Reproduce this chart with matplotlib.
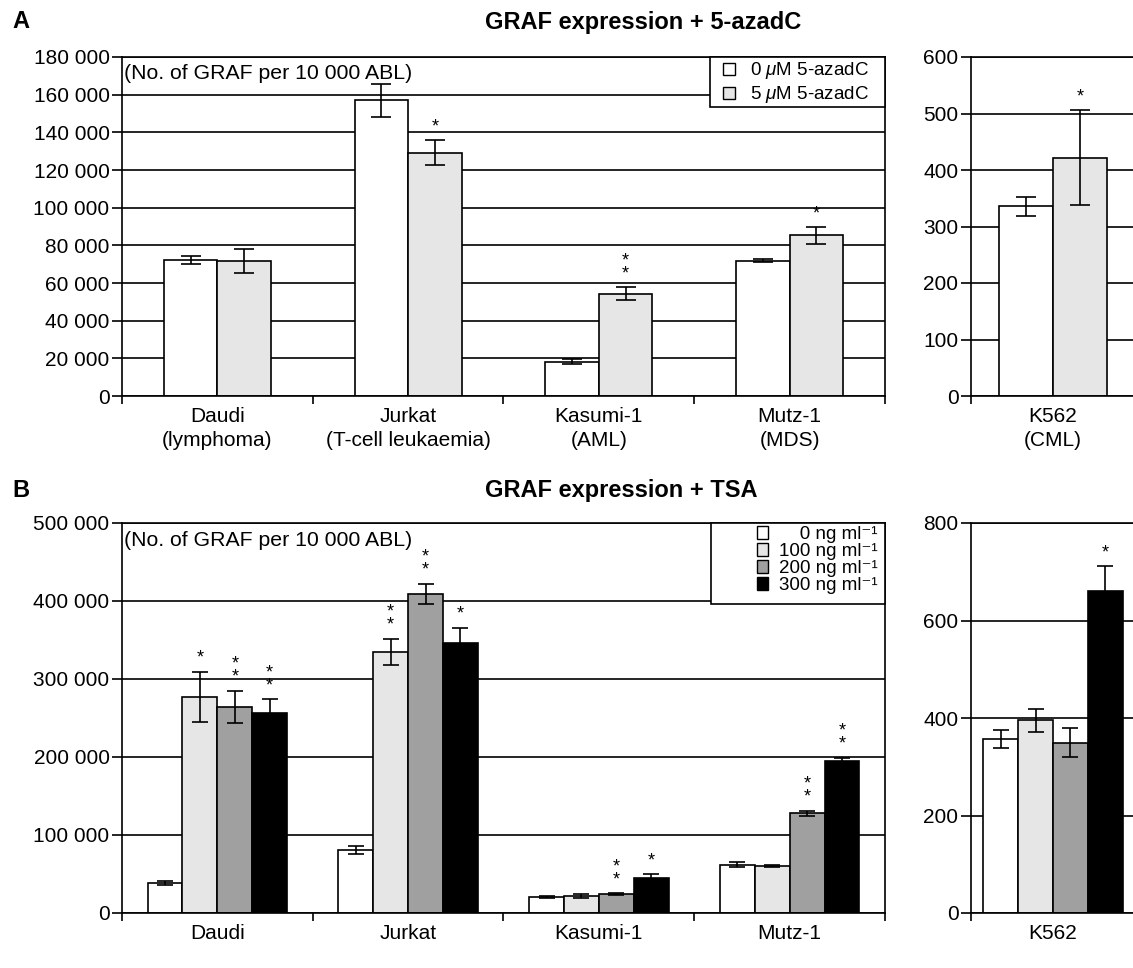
import numpy as np
import matplotlib
matplotlib.use("Agg")
import matplotlib.pyplot as plt
from matplotlib.patches import Patch, Rectangle

plt.rcParams['font.family'] = ['Liberation Sans', 'DejaVu Sans']
plt.rcParams['mathtext.fontset'] = 'custom'
plt.rcParams['mathtext.rm'] = 'Liberation Sans'
plt.rcParams['mathtext.it'] = 'Liberation Sans:italic'
plt.rcParams['font.size'] = 15

# ---------------- data ----------------
# Panel A (5-azadC)
a_categories = ["Daudi\n(lymphoma)", "Jurkat\n(T-cell leukaemia)", "Kasumi-1\n(AML)", "Mutz-1\n(MDS)"]
a_series = ["0 $\\mu$M 5-azadC", "5 $\\mu$M 5-azadC"]
a_0 = [72400, 157000, 18200, 71700]
a_0_err = [2100, 8700, 1300, 800]
a_5 = [71800, 129200, 54300, 85300]
a_5_err = [6300, 6700, 3400, 4500]
a_0_stars = [0, 0, 0, 0]
a_5_stars = [0, 1, 2, 1]

a_k562_cat = ["K562\n(CML)"]
a_k562 = [336, 422]
a_k562_err = [17, 84]
a_k562_stars = [0, 1]

# Panel B (TSA)
b_categories = ["Daudi", "Jurkat", "Kasumi-1", "Mutz-1"]
b_series = ["\u2007\u20070 ng ml\u207b\u00b9", "100 ng ml\u207b\u00b9",
            "200 ng ml\u207b\u00b9", "300 ng ml\u207b\u00b9"]
b_vals = [
    [38500, 81000, 20500, 62000],
    [277000, 335000, 22000, 60500],
    [264000, 409000, 24500, 128000],
    [257000, 346000, 45000, 195500],
]
b_errs = [
    [2000, 5000, 700, 3000],
    [32500, 16500, 3000, 1500],
    [21000, 13000, 1000, 3000],
    [17000, 20000, 5000, 3500],
]
b_stars = [
    [0, 0, 0, 0],
    [1, 2, 0, 0],
    [2, 2, 2, 2],
    [2, 1, 1, 2],
]

b_k562_cat = ["K562"]
b_k562 = [357, 395, 349, 660]
b_k562_err = [18, 24, 30, 52]
b_k562_stars = [0, 0, 0, 1]

a_colors = ["white", "#e6e6e6"]
b_colors = ["white", "#e6e6e6", "#a0a0a0", "black"]

W, H = 1133, 968
fig = plt.figure(figsize=(W / 100, H / 100), dpi=100)


def px_axes(x0, y0, x1, y1):
    return fig.add_axes([x0 / W, 1 - y1 / H, (x1 - x0) / W, (y1 - y0) / H])


def fmt_thousands(v):
    return "{:,}".format(int(v)).replace(",", " ")


def style_axes(ax, ymax, ystep, ncat, right_spine=True, thousands=True):
    ax.set_ylim(0, ymax)
    ticks = np.arange(0, ymax + 1, ystep)
    ax.set_yticks(ticks)
    if thousands:
        ax.set_yticklabels([fmt_thousands(t) for t in ticks])
    ax.yaxis.grid(True, color="black", linewidth=1.2)
    ax.set_axisbelow(True)
    for s in ["left", "bottom", "right", "top"]:
        ax.spines[s].set_linewidth(1.2)
        ax.spines[s].set_color("black")
    ax.spines["right"].set_visible(right_spine)
    ax.tick_params(axis="y", direction="out", length=7, width=1.2, labelsize=15, pad=2)
    ax.set_xlim(-0.5, ncat - 0.5)
    ax.set_xticks(np.arange(ncat))
    ax.tick_params(axis="x", which="major", length=0, labelsize=15, pad=8)
    ax.set_xticks(np.arange(ncat + 1) - 0.5, minor=True)
    ax.tick_params(axis="x", which="minor", direction="out", length=6, width=1.2)


def draw_group(ax, values_by_series, errs_by_series, stars_by_series, colors, width, capsize):
    nser = len(values_by_series)
    ncat = len(values_by_series[0])
    x = np.arange(ncat)
    for i in range(nser):
        xi = x + (i - (nser - 1) / 2) * width
        ax.bar(xi, values_by_series[i], width=width, color=colors[i], edgecolor="black",
               linewidth=1.2, zorder=2)
        ax.errorbar(xi, values_by_series[i], yerr=errs_by_series[i], fmt="none",
                    ecolor="black", elinewidth=1.2, capsize=capsize, capthick=1.2, zorder=3)
        for j in range(ncat):
            n = stars_by_series[i][j]
            if n:
                top = values_by_series[i][j] + errs_by_series[i][j]
                ax.annotate("\n".join(["*"] * n), (xi[j], top), xytext=(0, 3.5),
                            textcoords="offset points", ha="center", va="bottom",
                            fontsize=13, linespacing=0.7, zorder=4)


def boxed_legend(ax, colors, labels, box, anchor, fontsize, spacing, textpad):
    # box: (x0, y0, x1, y1) in axes fraction
    rect = Rectangle((box[0], box[1]), box[2] - box[0], box[3] - box[1],
                     transform=ax.transAxes, facecolor="white", edgecolor="black",
                     linewidth=1.2, zorder=5, clip_on=False)
    ax.add_patch(rect)
    leg = ax.legend([Patch(facecolor=c, edgecolor="black", linewidth=1.0) for c in colors],
                    labels, loc="upper left", bbox_to_anchor=anchor, borderaxespad=0,
                    borderpad=0, frameon=False, fontsize=fontsize,
                    handlelength=0.62, handleheight=0.62, handletextpad=textpad,
                    labelspacing=spacing)
    leg.set_zorder(6)
    return leg


# ---------------- Panel A ----------------
axA = px_axes(122, 57, 885, 396)
style_axes(axA, 180000, 20000, 4)
draw_group(axA, [a_0, a_5], [a_0_err, a_5_err], [a_0_stars, a_5_stars], a_colors, 0.28, 7)
axA.set_xticklabels(a_categories, linespacing=1.35)
axA.text(0.002, 0.95, "(No. of GRAF per 10 000 ABL)", transform=axA.transAxes,
         ha="left", va="center", fontsize=15.3)
boxed_legend(axA, a_colors, a_series, (0.7706, 0.8525, 1.0, 1.0), (0.7877, 0.99),
             13.5, 0.15, 0.8)

axAk = px_axes(971, 57, 1135, 396)
style_axes(axAk, 600, 100, 1, right_spine=False, thousands=False)
draw_group(axAk, [[v] for v in a_k562], [[e] for e in a_k562_err], [[s] for s in a_k562_stars],
           a_colors, 0.33, 7)
axAk.set_xticklabels(a_k562_cat, linespacing=1.35)

fig.text(12 / W, 1 - 22 / H, "A", fontsize=17, fontweight="bold", ha="left", va="center")
fig.text(485 / W, 1 - 22 / H, "GRAF expression + 5-azadC", fontsize=17, fontweight="bold",
         ha="left", va="center")

# ---------------- Panel B ----------------
axB = px_axes(122, 523, 885, 913)
style_axes(axB, 500000, 100000, 4)
draw_group(axB, b_vals, b_errs, b_stars, b_colors, 0.183, 6)
axB.set_xticklabels(b_categories)
axB.text(0.002, 0.954, "(No. of GRAF per 10 000 ABL)", transform=axB.transAxes,
         ha="left", va="center", fontsize=15.3)
boxed_legend(axB, b_colors, b_series, (0.772, 0.792, 1.0, 1.0), (0.832, 0.992),
             13.5, 0.0, 0.55)

axBk = px_axes(971, 523, 1135, 913)
style_axes(axBk, 800, 200, 1, right_spine=False, thousands=False)
draw_group(axBk, [[v] for v in b_k562], [[e] for e in b_k562_err], [[s] for s in b_k562_stars],
           b_colors, 0.213, 6)
axBk.set_xticklabels(b_k562_cat)

fig.text(12 / W, 1 - 490 / H, "B", fontsize=17, fontweight="bold", ha="left", va="center")
fig.text(485 / W, 1 - 490 / H, "GRAF expression + TSA", fontsize=17, fontweight="bold",
         ha="left", va="center")

fig.savefig("out.png", dpi=100)
